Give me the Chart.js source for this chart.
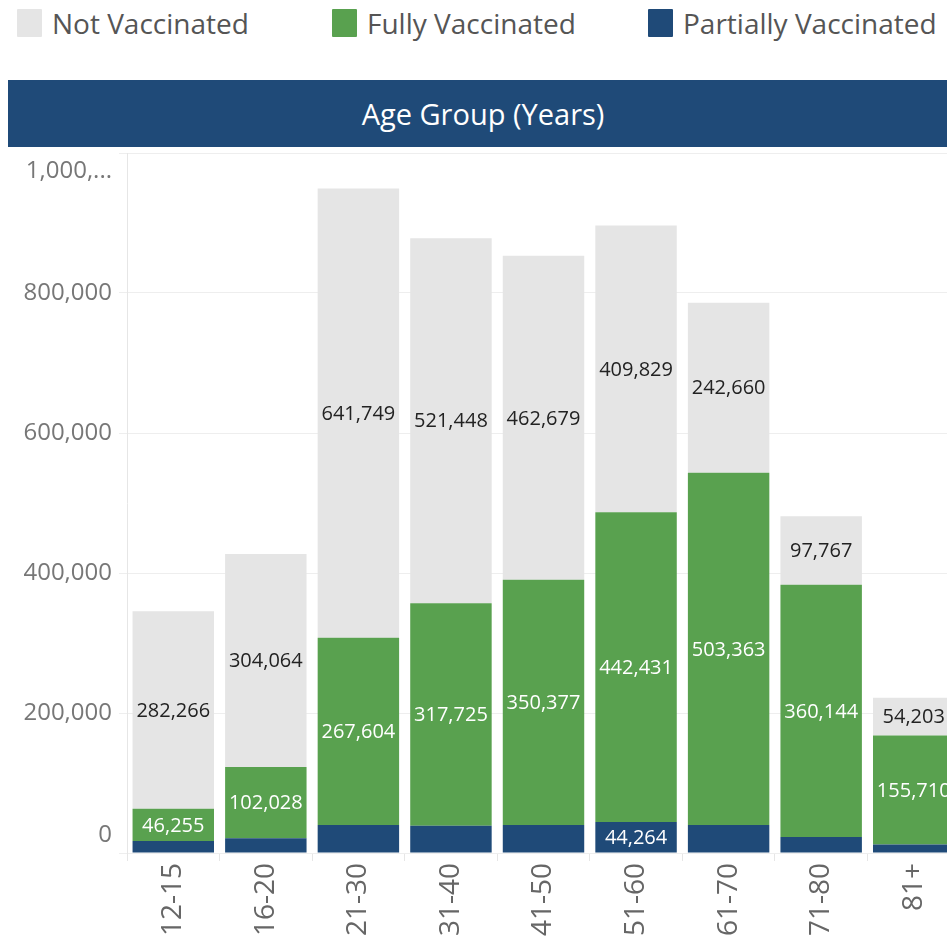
<!DOCTYPE html>
<html>
<head>
<meta charset="utf-8">
<script src="https://cdn.jsdelivr.net/npm/chart.js@4/dist/chart.umd.min.js"></script>
<style>
  html, body { margin: 0; padding: 0; width: 947px; height: 944px; overflow: hidden; background: #fff; font-family: "Open Sans", sans-serif; }
  .legend { position: absolute; top: 0; left: 0; height: 44px; width: 947px; z-index: 2; }
  .li { position: absolute; top: 8px; height: 30px; display: flex; align-items: center; font-size: 28px; color: #555; white-space: nowrap; }
  .sw { width: 25px; height: 28px; margin-right: 10px; border-radius: 1px; }
  .banner { position: absolute; left: 8px; top: 80px; width: 960px; height: 67px; background: #1f4a78; z-index: 2; }
  .banner span { position: absolute; left: 0; width: 950px; top: 0; line-height: 67px; text-align: center; color: #fff; font-size: 29px; }
  #wrap { position: absolute; left: 0; top: 110px; width: 960px; height: 834px; z-index: 1; }
</style>
</head>
<body>
<div class="legend">
  <div class="li" style="left:17px"><div class="sw" style="background:#e5e5e5"></div>Not Vaccinated</div>
  <div class="li" style="left:332px"><div class="sw" style="background:#59a14f"></div>Fully Vaccinated</div>
  <div class="li" style="left:648px"><div class="sw" style="background:#1f4a78"></div>Partially Vaccinated</div>
</div>
<div class="banner"><span>Age Group (Years)</span></div>
<div id="wrap"><canvas id="c" width="960" height="834"></canvas></div>
<script>
const categories = ["12-15", "16-20", "21-30", "31-40", "41-50", "51-60", "61-70", "71-80", "81+"];
const partiallyVaccinated = [17000, 21000, 40000, 39000, 40000, 44264, 40000, 23000, 12000];
const fullyVaccinated = [46255, 102028, 267604, 317725, 350377, 442431, 503363, 360144, 155710];
const notVaccinated = [282266, 304064, 641749, 521448, 462679, 409829, 242660, 97767, 54203];
const partialLabelShown = [false, false, false, false, false, true, false, false, false];
const yTicks = [0, 200000, 400000, 600000, 800000, 1000000];

const fmt = v => v.toLocaleString('en-US');

const labelPlugin = {
  id: 'segLabels',
  afterDatasetsDraw(chart) {
    const ctx = chart.ctx;
    ctx.save();
    ctx.font = '20px "Open Sans"';
    ctx.textAlign = 'center';
    ctx.textBaseline = 'middle';
    chart.data.datasets.forEach((ds, di) => {
      const meta = chart.getDatasetMeta(di);
      meta.data.forEach((el, i) => {
        if (ds.showLabel && !ds.showLabel[i]) return;
        const y = (el.y + el.base) / 2;
        ctx.fillStyle = ds.labelColor;
        ctx.fillText(fmt(ds.data[i]), el.x, y + 1);
      });
    });
    ctx.restore();
  }
};

new Chart(document.getElementById('c'), {
  type: 'bar',
  data: {
    labels: categories,
    datasets: [
      { label: 'Partially Vaccinated', data: partiallyVaccinated, backgroundColor: '#1f4a78', labelColor: '#ffffff', showLabel: partialLabelShown },
      { label: 'Fully Vaccinated', data: fullyVaccinated, backgroundColor: '#59a14f', labelColor: '#ffffff' },
      { label: 'Not Vaccinated', data: notVaccinated, backgroundColor: '#e5e5e5', labelColor: '#222222' }
    ]
  },
  options: {
    responsive: false,
    devicePixelRatio: 1,
    animation: false,
    layout: { padding: { top: 3, right: 0, left: 0, bottom: 0 } },
    datasets: { bar: { barPercentage: 0.88, categoryPercentage: 1.0 } },
    plugins: { legend: { display: false }, tooltip: { enabled: false } },
    scales: {
      x: {
        stacked: true,
        grid: { offset: true, drawOnChartArea: false, tickLength: 8, color: '#e6e6e6' },
        border: { display: false },
        ticks: { minRotation: 90, maxRotation: 90, color: '#666', font: { size: 28, family: 'Open Sans' }, padding: 2 },
        afterFit(scale) { scale.height = 91; }
      },
      y: {
        stacked: true,
        min: 0,
        max: 1000000,
        afterBuildTicks(scale) { scale.ticks = yTicks.map(v => ({ value: v })); },
        grid: { color: '#eeeeee', tickLength: 8 },
        border: { display: true, color: '#e6e6e6' },
        ticks: {
          color: '#777',
          padding: 7,
          font: { size: 24, family: 'Open Sans', lineHeight: 1.5 },
          callback(v) {
            if (v === 0) return ['0', ''];
            if (v === 1000000) return ['', '1,000,...'];
            return fmt(v);
          }
        },
        afterFit(scale) { scale.width = 127; }
      }
    }
  },
  plugins: [labelPlugin]
});
</script>
</body>
</html>
